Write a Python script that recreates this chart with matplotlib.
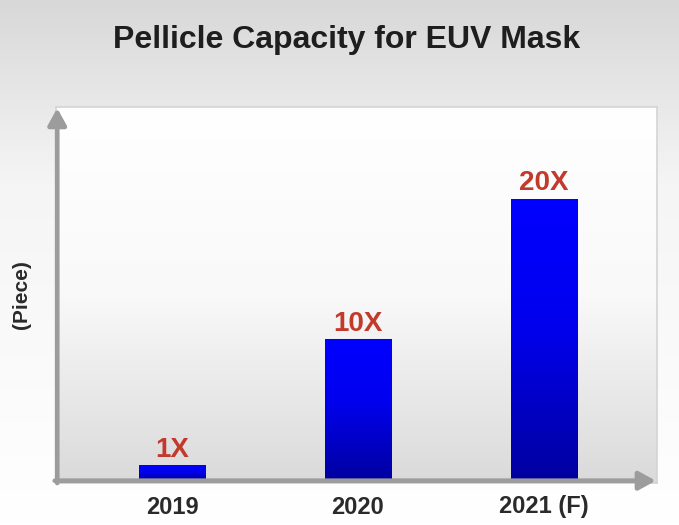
import numpy as np
import matplotlib
matplotlib.use('Agg')
import matplotlib.pyplot as plt
from matplotlib.colors import LinearSegmentedColormap
from matplotlib.patches import FancyArrowPatch

# --- data
years = ['2019', '2020', '2021 (F)']
capacity = [1, 10, 20]
labels = ['1X', '10X', '20X']

plt.rcParams['font.family'] = ['Liberation Sans', 'DejaVu Sans']

W, H = 679, 525
fig = plt.figure(figsize=(W / 100, H / 100), dpi=100)

# --- figure background: grey at top fading to white
bg = fig.add_axes((0, 0, 1, 1), zorder=-10)
grad = np.linspace(0, 1, 256)[:, None]
bg_cmap = LinearSegmentedColormap.from_list(
    'bg', [(0.0, '#d8d8d8'), (0.35, '#f5f5f5'), (1.0, '#ffffff')])
bg.imshow(grad, aspect='auto', cmap=bg_cmap, extent=(0, 1, 0, 1), origin='upper')
bg.set_axis_off()

# --- plot panel
left, right, top, bottom = 56, 657, 107, 483
ax = fig.add_axes((left / W, 1 - bottom / H, (right - left) / W, (bottom - top) / H))
ax.set_xlim(-0.624, 2.608)
ax.set_ylim(-0.214, 26.64)

panel_cmap = LinearSegmentedColormap.from_list('panel', ['#ffffff', '#f9f9f9', '#dadada'])
ax.imshow(grad, aspect='auto', cmap=panel_cmap, extent=(-0.624, 2.608, -0.214, 26.64),
          origin='upper', zorder=0)
for s in ax.spines.values():
    s.set_color('#d4d4d4')
    s.set_linewidth(1.2)

# --- bars with vertical blue gradient
x = np.arange(len(years))
bars = ax.bar(x, capacity, width=0.355, color='none', zorder=2)
bar_cmap = LinearSegmentedColormap.from_list(
    'bar', [(0.0, '#0000ff'), (0.45, '#0000ee'), (1.0, '#0000a0')])
for b in bars:
    x0, w, h = b.get_x(), b.get_width(), b.get_height()
    ax.imshow(grad, aspect='auto', cmap=bar_cmap, extent=(x0, x0 + w, 0, h),
              origin='upper', zorder=2)

for xi, v, lab in zip(x, capacity, labels):
    ax.annotate(lab, (xi, v), xytext=(0, 2.5), textcoords='offset points',
                ha='center', va='bottom', fontsize=20, fontweight='bold',
                color='#c23a2c', zorder=3)

# --- axes drawn as grey arrows
arrow_kw = dict(arrowstyle='-|>,head_length=10,head_width=5.5', mutation_scale=1,
                color='#9c9c9c', lw=3.4, shrinkA=0, shrinkB=0,
                transform=ax.transAxes, clip_on=False, zorder=4)
ax.add_patch(FancyArrowPatch((0.002, 0.0), (0.002, 0.997), **arrow_kw))
ax.add_patch(FancyArrowPatch((-0.002, 0.006), (0.998, 0.006), **arrow_kw))

ax.set_xticks(x, years)
ax.set_yticks([])
ax.tick_params(axis='x', length=0, pad=9, labelsize=17, labelcolor='#2a2a2a')
for t in ax.get_xticklabels():
    t.set_fontweight('bold')

fig.text(0.511, 1 - 40 / H, 'Pellicle Capacity for EUV Mask', ha='center', va='center',
         fontsize=23, fontweight='bold', color='#1e1e1e')
fig.text(22 / W, 1 - 295 / H, '(Piece)', ha='center', va='center', rotation=90,
         fontsize=15, fontweight='bold', color='#2a2a2a')

fig.savefig('out.png', dpi=100)
